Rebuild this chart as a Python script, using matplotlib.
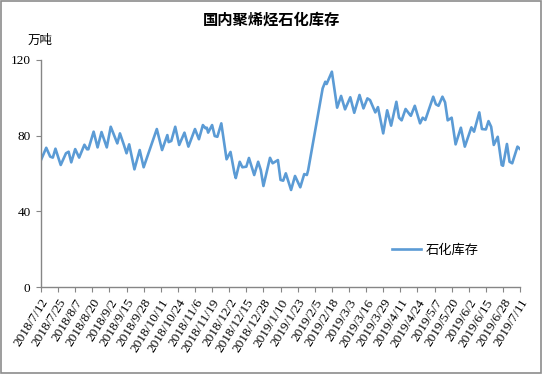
import matplotlib
matplotlib.use('Agg')
import matplotlib.pyplot as plt
import matplotlib.transforms as mtransforms
import pandas as pd

plt.rcParams['font.family'] = ['Noto Sans CJK SC', 'DejaVu Sans']

# turning points of the series (date, 万吨)
dates = [
    '2018-07-12', '2018-07-16', '2018-07-19', '2018-07-21', '2018-07-23', '2018-07-27',
    '2018-07-31', '2018-08-02', '2018-08-04', '2018-08-07', '2018-08-10', '2018-08-14',
    '2018-08-16', '2018-08-17', '2018-08-21', '2018-08-24', '2018-08-27', '2018-08-31',
    '2018-09-03', '2018-09-08', '2018-09-10', '2018-09-13', '2018-09-15', '2018-09-17',
    '2018-09-21', '2018-09-25', '2018-09-28', '2018-10-08', '2018-10-12', '2018-10-16',
    '2018-10-17', '2018-10-19', '2018-10-22', '2018-10-25', '2018-10-29', '2018-11-01',
    '2018-11-06', '2018-11-09', '2018-11-12', '2018-11-14', '2018-11-15', '2018-11-16',
    '2018-11-19', '2018-11-21', '2018-11-23', '2018-11-26', '2018-11-30', '2018-12-03',
    '2018-12-06', '2018-12-07', '2018-12-10', '2018-12-12', '2018-12-15', '2018-12-17',
    '2018-12-21', '2018-12-24', '2018-12-26', '2018-12-28', '2019-01-02', '2019-01-04',
    '2019-01-08', '2019-01-10', '2019-01-12', '2019-01-14', '2019-01-18', '2019-01-21',
    '2019-01-25', '2019-01-28', '2019-01-30', '2019-01-31', '2019-02-11', '2019-02-13',
    '2019-02-14', '2019-02-18', '2019-02-22', '2019-02-25', '2019-02-28', '2019-03-04',
    '2019-03-07', '2019-03-11', '2019-03-14', '2019-03-17', '2019-03-19', '2019-03-23',
    '2019-03-25', '2019-03-29', '2019-04-01', '2019-04-04', '2019-04-08', '2019-04-10',
    '2019-04-12', '2019-04-15', '2019-04-18', '2019-04-19', '2019-04-22', '2019-04-26',
    '2019-04-28', '2019-04-30', '2019-05-06', '2019-05-08', '2019-05-10', '2019-05-13',
    '2019-05-15', '2019-05-17', '2019-05-20', '2019-05-23', '2019-05-27', '2019-05-30',
    '2019-06-04', '2019-06-06', '2019-06-10', '2019-06-12', '2019-06-15', '2019-06-17',
    '2019-06-19', '2019-06-21', '2019-06-24', '2019-06-27', '2019-06-28', '2019-07-01',
    '2019-07-03', '2019-07-05', '2019-07-09', '2019-07-11',
]
stock = [
    67.1, 73.6, 68.9, 68.4, 73.1, 64.5,
    70.7, 71.5, 65.9, 72.9, 68.4, 75.2,
    72.8, 72.8, 82.1, 73.8, 81.9, 73.8,
    84.7, 75.9, 81.2, 75.1, 70.7, 75.4,
    62.2, 72.4, 63.3, 83.5, 72.4, 80.3,
    76.6, 77.2, 84.7, 75.1, 81.6, 74.2,
    83.5, 78.1, 85.6, 83.9, 84.2, 81.6,
    85.6, 79.8, 79.4, 86.5, 67.5, 71.4,
    60.1, 57.6, 66.2, 63.3, 63.6, 68.2,
    59.2, 66.2, 61.8, 53.4, 68.3, 65.4,
    67.1, 56.6, 56.2, 60.1, 51.3, 58.7,
    52.7, 59.7, 59.2, 61.8, 105.0, 108.5,
    107.3, 113.8, 94.8, 101.0, 93.9, 100.3,
    92.1, 101.5, 94.4, 99.7, 98.8, 92.3,
    95.1, 81.2, 93.4, 85.3, 97.9, 89.5,
    88.1, 94.1, 91.3, 90.5, 95.8, 86.5,
    89.5, 88.3, 100.6, 96.6, 95.8, 100.6,
    97.6, 88.1, 89.5, 75.4, 84.2, 74.2,
    84.4, 82.1, 92.3, 83.5, 83.3, 87.7,
    84.7, 75.1, 79.4, 64.5, 64.1, 75.6,
    66.2, 65.4, 74.2, 72.9,
]
tick_dates = pd.date_range('2018-07-12', '2019-07-11', freq='13D')
y_ticks = [0, 40, 80, 120]

x = pd.to_datetime(dates)

fig = plt.figure(figsize=(5.42, 3.74), dpi=100)
fig.patch.set_facecolor('white')
fig.add_artist(plt.Rectangle((0.001, 0.002), 0.997, 0.995, transform=fig.transFigure,
                             fill=False, edgecolor='#8c8c8c', linewidth=1.2))

ax = fig.add_axes([0.0756, 0.2326, 0.884, 0.607])
ax.plot(x, stock, color='#5B9BD5', linewidth=1.9, label='石化库存', solid_joinstyle='round')

ax.set_xlim(tick_dates[0], tick_dates[-1])
ax.set_ylim(0, 120)
ax.set_yticks(y_ticks)
ax.set_xticks(tick_dates)
ax.set_xticklabels([f'{d.year}/{d.month}/{d.day}' for d in tick_dates],
                   rotation=58, ha='right', va='top', rotation_mode='anchor',
                   family='Liberation Serif', fontsize=9.6)
offset = mtransforms.ScaledTranslation(9 / 100, -8 / 100, fig.dpi_scale_trans)
for lab in ax.get_xticklabels():
    lab.set_transform(lab.get_transform() + offset)
for lab in ax.get_yticklabels():
    lab.set_family('Liberation Serif')
    lab.set_fontsize(9.5)

for s in ['top', 'right']:
    ax.spines[s].set_visible(False)
for s in ['left', 'bottom']:
    ax.spines[s].set_color('#868686')
    ax.spines[s].set_linewidth(1)
ax.tick_params(axis='both', direction='out', length=3.5, width=0.8, color='#868686',
               labelcolor='black')
ax.tick_params(axis='y', pad=4)

fig.text(0.5, 0.948, '国内聚烯烃石化库存', ha='center', va='center',
         fontsize=11, fontweight='bold')
fig.text(0.074, 0.893, '万吨', ha='center', va='center', fontsize=9)

ax.legend(loc='center left', bbox_to_anchor=(0.723, 0.3316), bbox_transform=fig.transFigure,
          frameon=False, borderpad=0, borderaxespad=0, handlelength=2.2,
          handletextpad=0.35, prop={'size': 9.5})

fig.savefig('out.png', dpi=100)
